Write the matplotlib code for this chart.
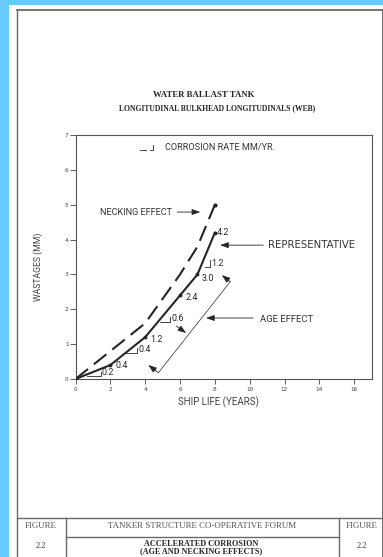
import matplotlib
matplotlib.use("Agg")
import matplotlib.pyplot as plt

# ---------------- data ----------------
years = [0, 2, 4, 6, 7, 8]
representative = [0, 0.4, 1.2, 2.4, 3.0, 4.2]
necking = [0, 0.8, 1.6, 3.0, 3.8, 5.0]

x_ticks = [0, 2, 4, 6, 8, 10, 12, 14, 16]
y_ticks = [0, 1, 2, 3, 4, 5, 6, 7]

# point value labels (on representative curve)
point_labels = ["0.4", "1.2", "2.4", "3.0", "4.2"]
point_label_x = [2.27, 4.28, 6.29, 7.25, 8.11]
point_label_y = [0.38, 1.12, 2.34, 2.87, 4.20]

# corrosion rate marks "_|" (x_left, x_right, y_base, y_top) and labels
rate_labels = ["0.2", "0.4", "0.6", "1.2"]
rate_x_left = [0.64, 2.84, 4.86, 7.44]
rate_x_right = [1.44, 3.52, 5.43, 7.73]
rate_y_base = [0.086, 0.74, 1.64, 3.22]
rate_y_top = [0.21, 0.88, 1.79, 3.41]

INK = "#262626"
LINE = "#6a6a6a"
BLUE = "#66ccff"

W, H = 383, 557
fig = plt.figure(figsize=(W / 100, H / 100), dpi=100, facecolor=BLUE)

# background page in pixel coordinates
bg = fig.add_axes([0, 0, 1, 1])
bg.set_xlim(0, W)
bg.set_ylim(H, 0)
bg.axis("off")
bg.set_zorder(0)
bg.add_patch(plt.Rectangle((9, 5), W - 9, H - 5, facecolor="white", edgecolor="none"))
# page frame
bg.plot([17, W], [10, 10], color=LINE, lw=1.3)
bg.plot([17, 17], [10, H], color=LINE, lw=1.0)
bg.plot([382, 382], [10, H], color=LINE, lw=0.7)
# footer table
bg.plot([17, W], [517.7, 517.7], color=LINE, lw=1.0)
bg.plot([65.7, 65.7], [517.7, H], color=LINE, lw=1.0)
bg.plot([339.3, 339.3], [517.7, H], color=LINE, lw=1.0)
bg.plot([65.7, 339.3], [536.7, 536.7], color=LINE, lw=1.0)

serif = "Liberation Serif"
bg.text(204, 95, "WATER BALLAST TANK", family=serif, weight="bold", fontsize=6.3,
        ha="center", va="center", color=INK)
bg.text(217.5, 108, "LONGITUDINAL BULKHEAD LONGITUDINALS (WEB)", family=serif,
        weight="bold", fontsize=5.5, ha="center", va="center", color=INK)

bg.text(41, 526, "FIGURE", family=serif, fontsize=6.4, ha="center", va="center", color="#555")
bg.text(41, 545.5, "2.2", family=serif, fontsize=6.0, ha="center", va="center", color="#333")
bg.text(362, 526, "FIGURE", family=serif, fontsize=6.4, ha="center", va="center", color="#555")
bg.text(362, 545.5, "2.2", family=serif, fontsize=6.0, ha="center", va="center", color="#333")
bg.text(202, 526, "TANKER STRUCTURE CO-OPERATIVE FORUM", family=serif, fontsize=6.4,
        ha="center", va="center", color="#555")
bg.text(201, 544, "ACCELERATED CORROSION", family=serif, weight="bold", fontsize=5.9,
        ha="center", va="center", color=INK)
bg.text(201, 551.5, "(AGE AND NECKING EFFECTS)", family=serif, weight="bold", fontsize=5.9,
        ha="center", va="center", color=INK)

sans = "Roboto"
bg.text(218.5, 402, "SHIP LIFE (YEARS)", family=sans, fontsize=7.0, ha="center",
        va="center", color="#444")
bg.text(38, 267, "WASTAGES (MM)", family=sans, fontsize=6.2, ha="center",
        va="center", rotation=90, color="#444")

# ---------------- main axes ----------------
x0, x1, ytop, ybot = 75.5, 371.7, 135, 379
ax = fig.add_axes([x0 / W, 1 - ybot / H, (x1 - x0) / W, (ybot - ytop) / H])
ax.set_zorder(1)
ax.set_facecolor("none")
ax.set_xlim(0, 17)
ax.set_ylim(0, 7)
ax.set_xticks(x_ticks)
ax.set_yticks(y_ticks)
ax.set_xticklabels([str(v) for v in x_ticks])
ax.set_yticklabels([str(v) for v in y_ticks])
for s in ax.spines.values():
    s.set_color("#555")
    s.set_linewidth(0.8)
ax.tick_params(axis="y", direction="out", length=4.5, width=0.6, labelsize=4.2,
               pad=0.5, colors="#444")
ax.tick_params(axis="x", direction="out", length=3.6, width=0.6, labelsize=4.2,
               pad=2.5, colors="#444")

ax.plot(years, representative, color=INK, lw=1.5, solid_capstyle="round",
        marker="o", markersize=1.8, zorder=3)
ax.plot(years, necking, color=INK, lw=1.5, dashes=(7.7, 3.6), zorder=3)
ax.plot([years[-1]], [necking[-1]], "o", color=INK, markersize=2.0, zorder=3)

fs_lab = 6.4
for t, x, y in zip(point_labels, point_label_x, point_label_y):
    ax.text(x, y, t, fontsize=fs_lab, family=sans, ha="left", va="center", color=INK)

for t, xl, xr, yb, yt in zip(rate_labels, rate_x_left, rate_x_right, rate_y_base, rate_y_top):
    ax.plot([xl, xr, xr], [yb, yb, yt], color=INK, lw=0.6)
    ax.text(xr + 0.08, yb - 0.03, t, fontsize=fs_lab, family=sans, ha="left",
            va="bottom", color=INK)

# legend-like note
ax.plot([3.72, 4.05], [6.58, 6.58], color=INK, lw=0.6)
ax.plot([4.25, 4.45, 4.45], [6.58, 6.58, 6.72], color=INK, lw=0.6)
ax.text(5.14, 6.65, "CORROSION RATE MM/YR.", fontsize=6.6, family=sans,
        ha="left", va="center", color="#333")

# annotations
arrow_kw = dict(arrowstyle="-|>,head_length=0.5,head_width=0.18", color=INK, lw=0.6,
                shrinkA=0, shrinkB=0)
ax.text(5.55, 4.79, "NECKING EFFECT", fontsize=6.6, family=sans, ha="right",
        va="center", color="#333")
ax.annotate("", xy=(7.16, 4.79), xytext=(5.84, 4.79), arrowprops=arrow_kw)

ax.text(11.06, 3.84, "REPRESENTATIVE", fontsize=7.3, family="DejaVu Sans",
        ha="left", va="center", color="#333")
ax.annotate("", xy=(8.30, 3.84), xytext=(10.78, 3.84), arrowprops=arrow_kw)

ax.text(10.6, 1.72, "AGE EFFECT", fontsize=6.8, family=sans, ha="left",
        va="center", color="#333")
ax.annotate("", xy=(7.49, 1.75), xytext=(10.2, 1.75), arrowprops=arrow_kw)

# age-effect bracket
ax.plot([4.76, 8.88], [0.18, 2.79], color=INK, lw=0.5)
ax.annotate("", xy=(4.18, 0.40), xytext=(4.76, 0.18), arrowprops=arrow_kw)
ax.annotate("", xy=(8.40, 2.98), xytext=(8.88, 2.79), arrowprops=arrow_kw)
ax.annotate("", xy=(6.35, 1.32), xytext=(5.78, 1.52), arrowprops=arrow_kw)

fig.savefig("out.png", dpi=100, facecolor=BLUE)
